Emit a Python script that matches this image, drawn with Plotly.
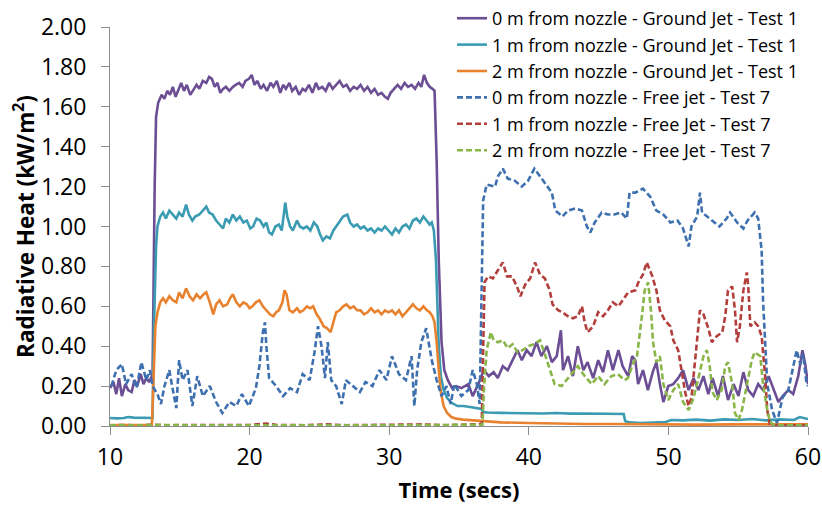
import plotly.graph_objects as go

# ---------------- data ----------------
names = [
    "0 m from nozzle - Ground Jet - Test 1",
    "1 m from nozzle - Ground Jet - Test 1",
    "2 m from nozzle - Ground Jet - Test 1",
    "0 m from nozzle - Free jet - Test 7",
    "1 m from nozzle - Free Jet - Test 7",
    "2 m from nozzle - Free Jet - Test 7",
]

g0_t = [10.0, 10.25, 10.45, 10.65, 10.85, 11.1, 11.3, 11.55, 11.75, 11.95, 12.2, 12.4, 12.6, 12.8, 13.0, 13.05,
        13.2, 13.3, 13.45, 13.7, 13.9, 14.1, 14.3, 14.5, 14.7, 14.9, 15.1, 15.3, 15.5, 15.75, 15.95, 16.2, 16.4,
        16.65, 16.9, 17.1, 17.3, 17.5, 17.7, 17.9, 18.1, 18.3, 18.55, 18.8, 19.0, 19.25, 19.5, 19.7, 19.95, 20.15,
        20.35, 20.55, 20.8, 21.0, 21.25, 21.5, 21.7, 21.95, 22.2, 22.4, 22.6, 22.85, 23.05, 23.3, 23.55, 23.8, 24.0,
        24.25, 24.5, 24.75, 24.95, 25.2, 25.45, 25.7, 25.95, 26.2, 26.45, 26.7, 26.95, 27.2, 27.45, 27.7, 27.95,
        28.2, 28.45, 28.7, 28.95, 29.2, 29.45, 29.7, 29.9, 30.1, 30.35, 30.6, 30.85, 31.1, 31.35, 31.6, 31.85, 32.1,
        32.3, 32.5, 32.7, 32.9, 33.1, 33.25, 33.4, 33.55, 33.75, 33.95, 34.2, 34.5, 34.8, 35.17, 35.67, 35.98, 36.38,
        36.78, 37.13, 37.48, 37.78, 38.14, 38.49, 38.84, 39.19, 39.5, 39.85, 40.2, 40.55, 40.9, 41.3, 41.65, 42.0,
        42.3, 42.45, 42.81, 43.16, 43.51, 43.91, 44.21, 44.61, 44.97, 45.32, 45.67, 46.02, 46.42, 46.72, 47.12,
        47.4, 47.63, 47.83, 48.18, 48.53, 48.88, 49.14, 49.39, 49.64, 49.99, 50.35, 50.7, 51.05, 51.45, 51.8, 52.15,
        52.51, 52.86, 53.16, 53.56, 53.91, 54.27, 54.67, 55.02, 55.37, 55.72, 56.08, 56.43, 56.78, 57.18, 57.58,
        57.88, 58.19, 58.59, 58.94, 59.3, 59.6, 59.8, 60.0]
g0_v = [0.19, 0.22, 0.16, 0.24, 0.15, 0.21, 0.18, 0.17, 0.23, 0.20, 0.26, 0.21, 0.24, 0.22, 0.25, 0.26,
        1.20, 1.55, 1.62, 1.66, 1.64, 1.68, 1.66, 1.70, 1.65, 1.69, 1.72, 1.68, 1.71, 1.66, 1.68, 1.71, 1.69,
        1.73, 1.72, 1.75, 1.74, 1.70, 1.72, 1.67, 1.69, 1.70, 1.68, 1.70, 1.71, 1.72, 1.70, 1.73, 1.74, 1.76,
        1.71, 1.73, 1.69, 1.71, 1.68, 1.72, 1.70, 1.73, 1.67, 1.71, 1.69, 1.72, 1.68, 1.70, 1.66, 1.69, 1.68,
        1.71, 1.67, 1.72, 1.69, 1.70, 1.68, 1.72, 1.69, 1.71, 1.73, 1.70, 1.71, 1.68, 1.70, 1.69, 1.71,
        1.68, 1.70, 1.67, 1.69, 1.66, 1.67, 1.65, 1.64, 1.67, 1.69, 1.71, 1.69, 1.72, 1.70, 1.71, 1.69, 1.72,
        1.70, 1.76, 1.72, 1.70, 1.69, 1.68, 1.33, 0.83, 0.42, 0.28, 0.23, 0.19, 0.20, 0.19, 0.21, 0.15, 0.21,
        0.28, 0.25, 0.27, 0.24, 0.30, 0.28, 0.33, 0.38, 0.33, 0.38, 0.35, 0.42, 0.35, 0.40, 0.32, 0.35,
        0.48, 0.28, 0.35, 0.25, 0.40, 0.28, 0.32, 0.24, 0.33, 0.27, 0.38, 0.28, 0.38, 0.30, 0.25,
        0.35, 0.33, 0.21, 0.28, 0.18, 0.27, 0.32, 0.21, 0.12, 0.20, 0.21, 0.24, 0.28, 0.18, 0.24, 0.18,
        0.25, 0.16, 0.24, 0.15, 0.25, 0.13, 0.21, 0.15, 0.27, 0.18, 0.15, 0.21, 0.18, 0.25, 0.18,
        0.12, 0.15, 0.18, 0.16, 0.25, 0.38, 0.31, 0.21]

g1_t = [10.0, 10.5, 11.0, 11.3, 11.7, 12.2, 12.7, 13.05, 13.15, 13.3, 13.4, 13.6, 13.8, 14.0, 14.25, 14.5, 14.75,
        14.95, 15.2, 15.45, 15.65, 15.9, 16.1, 16.4, 16.65, 16.9, 17.1, 17.35, 17.6, 17.85, 18.1, 18.3, 18.55, 18.8,
        19.05, 19.3, 19.55, 19.8, 20.05, 20.25, 20.5, 20.75, 21.0, 21.2, 21.4, 21.6, 21.85, 22.1, 22.3, 22.45, 22.55,
        22.7, 22.9, 23.1, 23.4, 23.6, 23.85, 24.1, 24.35, 24.6, 24.85, 25.05, 25.25, 25.5, 25.75, 26.0, 26.2, 26.45,
        26.7, 27.0, 27.2, 27.45, 27.7, 27.95, 28.2, 28.45, 28.7, 28.95, 29.2, 29.45, 29.7, 29.95, 30.2, 30.45, 30.7,
        30.95, 31.2, 31.45, 31.7, 31.95, 32.2, 32.45, 32.7, 32.9, 33.05, 33.2, 33.35, 33.45, 33.55, 33.7, 33.9,
        34.15, 34.5, 34.9, 35.3, 35.8, 36.3, 36.6, 36.75, 37.0, 38.0, 39.0, 40.0, 41.0, 42.0, 43.0, 44.0, 45.0,
        46.0, 46.8, 46.9, 47.2, 48.0, 49.0, 49.8, 50.2, 51.0, 52.0, 53.0, 54.0, 55.0, 56.0, 57.0, 58.0, 59.0,
        59.4, 60.0]
g1_v = [0.040, 0.038, 0.040, 0.045, 0.042, 0.040, 0.038, 0.040, 0.50, 0.90, 1.00, 1.05, 1.07, 1.04, 1.08, 1.06, 1.04,
        1.07, 1.05, 1.11, 1.06, 1.03, 1.05, 1.06, 1.08, 1.10, 1.07, 1.06, 1.03, 1.01, 0.99, 1.04, 1.02, 1.06,
        1.03, 1.05, 1.02, 1.03, 0.99, 1.00, 1.04, 1.03, 1.00, 1.02, 0.97, 0.96, 1.00, 1.01, 0.98, 1.06, 1.12,
        1.05, 1.00, 0.98, 1.03, 1.00, 0.99, 1.00, 0.98, 1.02, 1.00, 0.96, 0.93, 0.95, 0.94, 0.98, 1.00, 1.02,
        1.05, 1.06, 1.02, 1.00, 1.01, 0.99, 1.00, 0.98, 0.99, 0.97, 0.99, 0.98, 1.00, 0.98, 0.96, 0.99, 0.97,
        1.00, 1.01, 0.99, 1.03, 1.04, 1.02, 1.05, 1.03, 1.01, 1.02, 0.98, 0.83, 0.60, 0.40, 0.25, 0.18,
        0.14, 0.115, 0.10, 0.10, 0.095, 0.09, 0.085, 0.07, 0.068, 0.066, 0.064, 0.065, 0.063, 0.065, 0.062, 0.063,
        0.061, 0.062, 0.060, 0.025, 0.018, 0.015, 0.016, 0.020, 0.030, 0.028, 0.032, 0.027, 0.033, 0.030, 0.035,
        0.028, 0.033, 0.030, 0.045, 0.035]

g2_t = [10.0, 11.0, 12.0, 13.0, 13.1, 13.25, 13.4, 13.6, 13.8, 14.0, 14.25, 14.5, 14.75, 14.95, 15.2, 15.45, 15.7,
        15.95, 16.2, 16.45, 16.7, 16.9, 17.15, 17.4, 17.6, 17.85, 18.1, 18.4, 18.6, 18.8, 19.05, 19.3, 19.55, 19.8,
        20.0, 20.2, 20.45, 20.7, 20.95, 21.2, 21.45, 21.7, 21.9, 22.1, 22.35, 22.5, 22.65, 22.85, 23.1, 23.4, 23.6,
        23.85, 24.1, 24.35, 24.55, 24.8, 25.0, 25.3, 25.55, 25.8, 26.0, 26.2, 26.45, 26.7, 26.95, 27.2, 27.45, 27.7,
        27.95, 28.2, 28.45, 28.7, 28.95, 29.2, 29.45, 29.7, 29.95, 30.2, 30.45, 30.7, 30.95, 31.2, 31.45, 31.7,
        31.95, 32.2, 32.45, 32.7, 32.9, 33.1, 33.25, 33.4, 33.55, 33.7, 33.9, 34.15, 34.45, 34.8, 35.3, 35.8, 36.3,
        36.6, 37.0, 38.0, 40.0, 42.0, 44.0, 46.0, 48.0, 50.0, 52.0, 55.0, 58.0, 60.0]
g2_v = [0.005, 0.005, 0.005, 0.005, 0.20, 0.50, 0.57, 0.62, 0.64, 0.62, 0.65, 0.63, 0.62, 0.67, 0.64, 0.69, 0.65,
        0.63, 0.66, 0.64, 0.66, 0.67, 0.62, 0.56, 0.61, 0.63, 0.60, 0.61, 0.64, 0.66, 0.62, 0.60, 0.62, 0.61,
        0.59, 0.60, 0.62, 0.63, 0.60, 0.58, 0.56, 0.55, 0.57, 0.58, 0.62, 0.68, 0.66, 0.58, 0.57, 0.59, 0.57,
        0.58, 0.60, 0.59, 0.60, 0.56, 0.54, 0.50, 0.49, 0.47, 0.52, 0.57, 0.58, 0.60, 0.61, 0.59, 0.60, 0.58,
        0.58, 0.56, 0.57, 0.59, 0.57, 0.58, 0.56, 0.58, 0.57, 0.58, 0.56, 0.58, 0.55, 0.57, 0.59, 0.61,
        0.59, 0.58, 0.60, 0.58, 0.57, 0.55, 0.52, 0.42, 0.28, 0.17, 0.10, 0.065, 0.045, 0.037, 0.032, 0.030, 0.028,
        0.025, 0.022, 0.018, 0.015, 0.012, 0.010, 0.010, 0.008, 0.008, 0.007, 0.008, 0.008, 0.008]

f0_t = [10.1, 10.45, 10.85, 11.15, 11.55, 11.9, 12.25, 12.6, 12.85, 13.05, 13.4, 13.65, 13.9, 14.25, 14.45, 14.75,
        14.95, 15.2, 15.55, 15.9, 16.25, 16.65, 17.15, 17.6, 18.05, 18.55, 19.05, 19.45, 19.95, 20.45, 20.7, 20.95,
        21.1, 21.2, 21.4, 21.9, 22.4, 22.9, 23.4, 23.8, 24.3, 24.65, 24.9, 25.15, 25.4, 25.6, 25.85, 26.2, 26.6,
        26.9, 27.4, 27.9, 28.3, 28.8, 29.3, 29.8, 30.2, 30.7, 31.2, 31.6, 31.8, 32.0, 32.3, 32.65, 33.05, 33.4,
        33.75, 34.1, 34.4, 34.67, 35.17, 35.67, 35.98, 36.28, 36.48, 36.63, 36.73, 36.98, 37.58, 37.78, 38.14, 38.49,
        38.99, 39.5, 39.95, 40.4, 40.8, 41.15, 41.65, 41.9, 42.41, 42.81, 43.31, 43.81, 44.16, 44.41, 44.72, 45.22,
        45.67, 46.12, 46.62, 47.02, 47.22, 47.63, 48.18, 48.69, 49.14, 49.64, 50.14, 50.65, 51.05, 51.45, 51.65,
        52.06, 52.26, 52.41, 52.76, 53.16, 53.66, 54.17, 54.42, 54.92, 55.37, 55.67, 56.18, 56.43, 56.68, 56.78,
        56.93, 57.08, 57.43, 57.78, 57.98, 58.19, 58.59, 58.94, 59.19, 59.45, 59.65, 59.9, 60.0]
f0_v = [0.20, 0.28, 0.31, 0.21, 0.26, 0.19, 0.32, 0.23, 0.28, 0.20, 0.16, 0.11, 0.20, 0.28, 0.20, 0.09,
        0.33, 0.23, 0.28, 0.10, 0.25, 0.15, 0.20, 0.12, 0.065, 0.12, 0.10, 0.16, 0.10, 0.19, 0.30, 0.47,
        0.52, 0.40, 0.24, 0.20, 0.15, 0.19, 0.17, 0.26, 0.23, 0.37, 0.50, 0.40, 0.24, 0.42, 0.23, 0.20, 0.11,
        0.23, 0.20, 0.17, 0.22, 0.20, 0.28, 0.23, 0.35, 0.26, 0.23, 0.35, 0.10, 0.28, 0.42, 0.49, 0.33, 0.23,
        0.15, 0.20, 0.11, 0.21, 0.15, 0.18, 0.28, 0.21, 0.11, 0.72, 1.13, 1.21, 1.20, 1.25, 1.29, 1.24,
        1.23, 1.20, 1.23, 1.29, 1.25, 1.22, 1.17, 1.08, 1.05, 1.08, 1.09, 1.08, 1.00, 0.97, 1.02, 1.07,
        1.06, 1.06, 1.07, 1.04, 1.17, 1.17, 1.19, 1.15, 1.08, 1.06, 1.02, 1.03, 0.99, 0.90, 1.00,
        1.05, 1.17, 1.07, 1.05, 1.03, 1.00, 1.04, 1.07, 1.02, 0.99, 1.03, 1.07, 1.04, 0.88, 0.63,
        0.38, 0.21, 0.08, 0.015, 0.08, 0.145, 0.18, 0.30, 0.38, 0.31, 0.36, 0.21, 0.20]

f1_t = [10.0, 11.0, 12.0, 13.0, 14.0, 15.5, 17.0, 18.0, 20.0, 21.2, 22.0, 24.0, 25.5, 27.0, 29.0, 31.0, 32.5, 34.0,
        35.5, 36.63, 36.75, 36.83, 37.08, 37.43, 37.78, 38.14, 38.44, 38.79, 39.15, 39.4, 39.75, 40.1, 40.45, 40.8,
        41.15, 41.5, 41.7, 42.1, 42.4, 42.81, 43.16, 43.51, 43.81, 44.0, 44.21, 44.61, 44.97, 45.32, 45.67, 46.02,
        46.42, 46.72, 47.12, 47.63, 47.85, 48.18, 48.45, 48.85, 49.14, 49.39, 49.74, 50.14, 50.35, 50.7, 50.95,
        51.2, 51.45, 51.65, 51.9, 52.15, 52.26, 52.51, 52.86, 53.11, 53.46, 53.86, 54.07, 54.27, 54.57, 54.77,
        54.92, 55.12, 55.37, 55.62, 55.72, 55.87, 56.18, 56.43, 56.68, 56.93, 57.08, 57.28, 58.0, 59.0, 60.0]
f1_v = [0.003, 0.005, 0.003, 0.006, 0.004, 0.005, 0.003, 0.004, 0.005, 0.012, 0.005, 0.004, 0.008, 0.004, 0.005,
        0.006, 0.008, 0.004, 0.006, 0.010, 0.45, 0.72, 0.75, 0.74, 0.78, 0.82, 0.75, 0.75, 0.70, 0.65, 0.71, 0.74,
        0.82, 0.76, 0.74, 0.68, 0.61, 0.58, 0.57, 0.55, 0.54, 0.55, 0.60, 0.52, 0.47, 0.50, 0.57, 0.55, 0.58,
        0.62, 0.60, 0.63, 0.67, 0.68, 0.72, 0.76, 0.82, 0.75, 0.68, 0.58, 0.53, 0.50, 0.43, 0.38, 0.28,
        0.17, 0.10, 0.14, 0.32, 0.50, 0.58, 0.56, 0.49, 0.42, 0.45, 0.47, 0.55, 0.68, 0.70, 0.58,
        0.42, 0.50, 0.68, 0.77, 0.70, 0.50, 0.52, 0.50, 0.45, 0.25, 0.08, 0.0, 0.004, 0.003, 0.005]

f2_t = [10.0, 11.5, 13.0, 14.5, 16.0, 18.0, 19.5, 21.0, 22.5, 24.5, 26.0, 28.0, 30.0, 32.0, 34.0, 35.5, 36.68,
        36.8, 36.98, 37.28, 37.48, 37.78, 38.14, 38.49, 38.84, 39.19, 39.55, 39.95, 40.4, 40.8, 41.15, 41.5, 41.85,
        42.35, 42.7, 43.05, 43.51, 44.01, 44.51, 44.97, 45.42, 45.92, 46.37, 46.87, 47.1, 47.5, 47.75, 48.1, 48.3,
        48.55, 48.75, 48.9, 49.14, 49.39, 49.64, 49.99, 50.35, 50.7, 51.05, 51.45, 51.8, 52.15, 52.51, 52.76,
        52.96, 53.16, 53.46, 53.81, 54.07, 54.27, 54.57, 54.77, 55.02, 55.27, 55.62, 55.97, 56.18, 56.58, 56.78,
        57.08, 57.28, 57.6, 58.5, 60.0]
f2_v = [0.003, 0.004, 0.003, 0.005, 0.003, 0.004, 0.003, 0.006, 0.004, 0.003, 0.005, 0.004, 0.003, 0.005, 0.004,
        0.006, 0.005, 0.20, 0.38, 0.47, 0.43, 0.42, 0.43, 0.39, 0.41, 0.37, 0.38, 0.40, 0.41, 0.43, 0.36, 0.28,
        0.21, 0.20, 0.23, 0.26, 0.30, 0.25, 0.21, 0.25, 0.21, 0.25, 0.26, 0.23, 0.24, 0.32, 0.35, 0.55, 0.68,
        0.72, 0.58, 0.42, 0.32, 0.35, 0.21, 0.13, 0.18, 0.21, 0.12, 0.08, 0.14, 0.24, 0.35, 0.38,
        0.30, 0.17, 0.13, 0.18, 0.30, 0.32, 0.21, 0.065, 0.03, 0.08, 0.21, 0.33, 0.37, 0.35, 0.21,
        0.08, 0.02, 0.003, 0.004, 0.003]

x_ticks = [10, 20, 30, 40, 50, 60]
y_ticks = [0.0, 0.2, 0.4, 0.6, 0.8, 1.0, 1.2, 1.4, 1.6, 1.8, 2.0]

colors = ["#6B4E94", "#3A9BB2", "#E8822F", "#3E70B0", "#B23F3C", "#8AB548"]
dashes = ["solid", "solid", "solid", "6px,3px", "6px,3px", "6px,3px"]
series_t = [g0_t, g1_t, g2_t, f0_t, f1_t, f2_t]
series_v = [g0_v, g1_v, g2_v, f0_v, f1_v, f2_v]

fig = go.Figure()
for name, t, v, c, d in zip(names, series_t, series_v, colors, dashes):
    fig.add_trace(go.Scatter(x=t, y=v, mode="lines", name=name,
                             line=dict(color=c, width=2.6, dash=d)))

axis_col = "#8C8C8C"
fig.update_layout(
    width=822, height=507,
    margin=dict(l=110, r=14, t=27, b=81, autoexpand=False),
    paper_bgcolor="white", plot_bgcolor="white",
    font=dict(family="Open Sans", color="#000000"),
    showlegend=True,
    legend=dict(x=452 / 822, xref="container", xanchor="left",
                y=1.004, yref="container", yanchor="top",
                bgcolor="rgba(0,0,0,0)", borderwidth=0,
                font=dict(size=18, family="Open Sans", color="#000000"),
                tracegroupgap=0),
)
fig.update_xaxes(range=[10, 60], tickvals=x_ticks, ticktext=[str(v) for v in x_ticks],
                 showgrid=False, zeroline=False, showline=True, linecolor=axis_col, linewidth=1,
                 ticks="outside", ticklen=8, tickcolor=axis_col, tickfont=dict(size=23),
                 ticklabelstandoff=2,
                 title=dict(text="<b>Time (secs)</b>", font=dict(size=22), standoff=12))
fig.update_yaxes(range=[0, 2.0], tickvals=y_ticks, ticktext=[f"{v:.2f}" for v in y_ticks],
                 showgrid=False, zeroline=False, showline=True, linecolor=axis_col, linewidth=1,
                 ticks="outside", ticklen=8, tickcolor=axis_col, tickfont=dict(size=23),
                 ticklabelstandoff=10,
                 title=dict(text="<b>Radiative Heat (kW/m<sup>2</sup>)</b>", font=dict(size=22.5), standoff=0))

fig.write_html("out.html", config={"displayModeBar": False},
               post_script="document.body.style.margin='0';document.body.style.overflow='hidden';")
